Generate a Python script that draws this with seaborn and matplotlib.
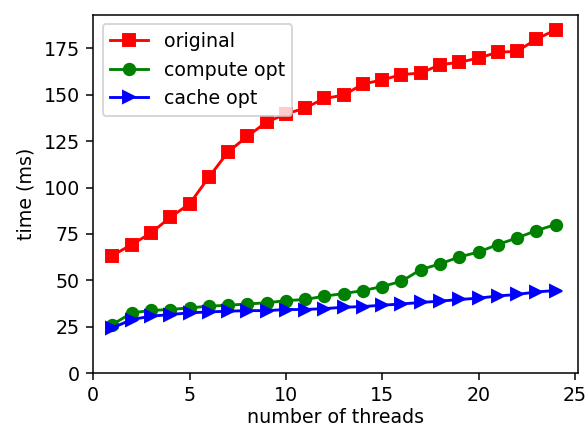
import numpy as np
import pandas as pd
import matplotlib
matplotlib.use("Agg")
import matplotlib.pyplot as plt
import seaborn as sns

# data
threads = list(range(1, 25))
original = [63.4, 69.3, 75.5, 84.0, 91.2, 105.5, 119.2, 127.6, 135.3, 139.6, 142.9, 148.0,
            149.8, 155.8, 158.0, 160.9, 161.7, 166.2, 167.5, 169.8, 172.9, 173.4, 180.0, 185.0]
compute_opt = [26.2, 32.5, 33.8, 34.3, 35.2, 36.1, 36.6, 37.3, 37.9, 39.1, 39.7, 41.5,
               42.9, 44.5, 46.7, 49.5, 55.8, 58.9, 62.6, 65.3, 69.3, 72.9, 76.8, 80.1]
cache_opt = [24.4, 28.9, 30.7, 31.6, 32.5, 33.0, 33.4, 33.7, 33.7, 34.3, 34.3, 34.8,
             35.5, 35.9, 36.6, 37.3, 38.1, 38.8, 39.7, 40.4, 41.6, 42.4, 43.8, 44.5]

df = pd.DataFrame({"threads": threads, "original": original,
                   "compute opt": compute_opt, "cache opt": cache_opt})

DPI = 137
fig, ax = plt.subplots(figsize=(586 / DPI, 426 / DPI), dpi=DPI)
fig.subplots_adjust(left=0.159, right=0.986, top=0.965, bottom=0.124)

#plot each series like plain 'rs-', 'go-', 'b>-'
for col, color, mk in [("original", "red", "s"), ("compute opt", "green", "o"), ("cache opt", "blue", ">")]:
    sns.lineplot(data=df, x="threads", y=col, ax=ax, color=color, marker=mk,
                 markersize=6, markeredgecolor=color, markeredgewidth=1,
                 linewidth=1.5, label=col)

ax.set_xlim(left=0)
ax.set_ylim(bottom=0)
ax.set_xticks([0, 5, 10, 15, 20, 25])
ax.set_yticks([0, 25, 50, 75, 100, 125, 150, 175])
ax.set_xlabel("number of threads", labelpad=1.5)
ax.set_ylabel("time (ms)")
ax.legend(loc="upper left")

fig.savefig("out.png", dpi=DPI)
